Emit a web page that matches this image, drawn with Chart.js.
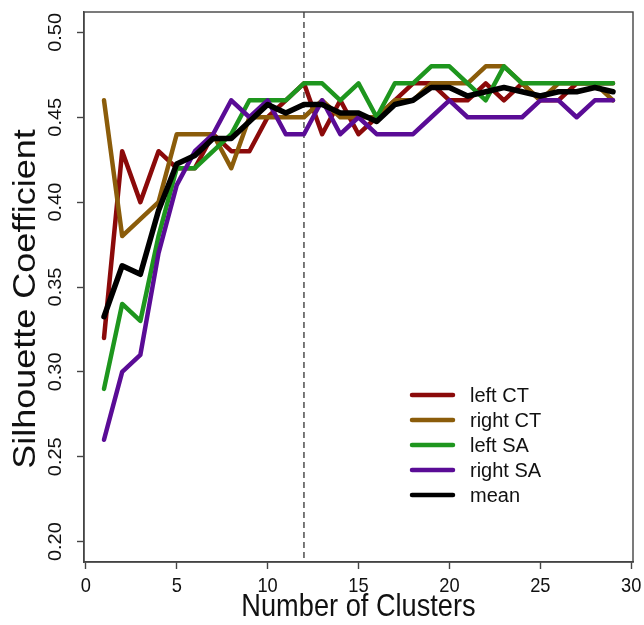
<!DOCTYPE html>
<html>
<head>
<meta charset="utf-8">
<script src="https://cdn.jsdelivr.net/npm/chart.js@4/dist/chart.umd.min.js"></script>
<style>
    body { margin: 0; background: #fff; }
    canvas { display: block; }
</style>
</head>
<body>
<canvas id="silhouette-chart" width="644" height="625"></canvas>
<script>
const clusters = [1,2,3,4,5,6,7,8,9,10,11,12,13,14,15,16,17,18,19,20,21,22,23,24,25,26,27,28,29];

const leftCT  = [0.32,0.43,0.40,0.43,0.42,0.42,0.44,0.43,0.43,0.45,0.46,0.47,0.44,0.46,0.44,0.45,0.46,0.47,0.47,0.46,0.46,0.47,0.46,0.47,0.46,0.46,0.47,0.47,0.47];
const rightCT = [0.46,0.38,0.39,0.40,0.44,0.44,0.44,0.42,0.45,0.45,0.45,0.45,0.46,0.45,0.45,0.45,0.46,0.46,0.47,0.47,0.47,0.48,0.48,0.47,0.46,0.47,0.47,0.47,0.46];
const leftSA  = [0.29,0.34,0.33,0.38,0.42,0.42,0.43,0.44,0.46,0.46,0.46,0.47,0.47,0.46,0.47,0.45,0.47,0.47,0.48,0.48,0.47,0.46,0.48,0.47,0.47,0.47,0.47,0.47,0.47];
const rightSA = [0.26,0.30,0.31,0.37,0.41,0.43,0.44,0.46,0.45,0.46,0.44,0.44,0.46,0.44,0.45,0.44,0.44,0.44,0.45,0.46,0.45,0.45,0.45,0.45,0.46,0.46,0.45,0.46,0.46];
const meanCoef = [0.3325,0.3625,0.3575,0.395,0.4225,0.4275,0.4375,0.4375,0.4475,0.4575,0.4525,0.4575,0.4575,0.4525,0.4525,0.4475,0.4575,0.46,0.4675,0.4675,0.4625,0.465,0.4675,0.465,0.4625,0.465,0.465,0.4675,0.465];

const seriesNames = ['left CT', 'right CT', 'left SA', 'right SA', 'mean'];
const xTickValues = [0,5,10,15,20,25,30];
const yTickValues = [0.20,0.25,0.30,0.35,0.40,0.45,0.50];
const chosenK = 12;

const colors = ['rgb(139,10,10)', 'rgb(139,92,10)', 'rgb(30,150,30)', 'rgb(90,12,150)', 'rgb(0,0,0)'];
const axisColor = '#444';
const fontFamily = '"Liberation Sans", Arial, Helvetica, sans-serif';

const toPoints = function(values){
    return values.map((v, i) => ({ x: clusters[i], y: v }));
};

const makeDataset = function(idx, values, width){
    return {
        label: seriesNames[idx],
        data: toPoints(values),
        borderColor: colors[idx],
        backgroundColor: colors[idx],
        borderWidth: width,
        pointRadius: 0,
        tension: 0,
        fill: false,
        borderCapStyle: 'round',
        borderJoinStyle: 'round',
        order: 5 - idx
    };
};

// box, dashed line at chosen k, labels and the legend
const rPlotPlugin = {
    id: 'rPlot',
    beforeDatasetsDraw(chart){
        const ctx = chart.ctx;
        const area = chart.chartArea;
        const x = chart.scales.x.getPixelForValue(chosenK);
        ctx.save();
        ctx.strokeStyle = '#222';
        ctx.lineWidth = 1.2;
        ctx.setLineDash([6, 4]);
        ctx.beginPath();
        ctx.moveTo(x, area.top);
        ctx.lineTo(x, area.bottom);
        ctx.stroke();
        ctx.restore();
    },
    afterDraw(chart){
        const ctx = chart.ctx;
        const area = chart.chartArea;
        const xScale = chart.scales.x;
        const yScale = chart.scales.y;

        ctx.save();
        ctx.strokeStyle = axisColor;
        ctx.lineWidth = 1.4;
        ctx.strokeRect(area.left, area.top, area.right - area.left, area.bottom - area.top);

        ctx.fillStyle = '#111';
        ctx.textAlign = 'center';

        // y tick labels, rotated like R's las = 0
        ctx.font = '20px ' + fontFamily;
        ctx.textBaseline = 'middle';
        for (const v of yTickValues) {
            const y = yScale.getPixelForValue(v);
            ctx.save();
            ctx.translate(area.left - 28, y);
            ctx.rotate(-Math.PI / 2);
            ctx.scale(1, 0.9);
            ctx.fillText(v.toFixed(2), 0, 0);
            ctx.restore();
        }

        // x tick labels, a bit narrow like the original
        ctx.font = '21px ' + fontFamily;
        ctx.textBaseline = 'alphabetic';
        for (const v of xTickValues) {
            const x = xScale.getPixelForValue(v);
            ctx.save();
            ctx.translate(x, 592);
            ctx.scale(0.87, 1);
            ctx.fillText(String(v), 0, 0);
            ctx.restore();
        }

        // axis titles
        ctx.font = '36px ' + fontFamily;
        ctx.save();
        ctx.translate(35, 299);
        ctx.rotate(-Math.PI / 2);
        ctx.scale(1, 0.86);
        ctx.fillText('Silhouette Coefficient', 0, 0);
        ctx.restore();

        ctx.font = '32px ' + fontFamily;
        ctx.save();
        ctx.translate((area.left + area.right) / 2, 616);
        ctx.scale(0.85, 1);
        ctx.fillText('Number of Clusters', 0, 0);
        ctx.restore();

        // legend
        const lx = area.left + 328;
        const ly = area.top + 383;
        ctx.font = '20px ' + fontFamily;
        ctx.textAlign = 'left';
        ctx.textBaseline = 'middle';
        ctx.lineCap = 'round';
        seriesNames.forEach((name, i) => {
            const y = ly + i * 25;
            ctx.strokeStyle = colors[i];
            ctx.lineWidth = 4.5;
            ctx.beginPath();
            ctx.moveTo(lx, y);
            ctx.lineTo(lx + 41, y);
            ctx.stroke();
            ctx.fillStyle = '#111';
            ctx.fillText(name, lx + 58, y + 1);
        });
        ctx.restore();
    }
};

let silhouetteData = {
    datasets: [
        makeDataset(0, leftCT, 4.5),
        makeDataset(1, rightCT, 4.5),
        makeDataset(2, leftSA, 4.5),
        makeDataset(3, rightSA, 4.5),
        makeDataset(4, meanCoef, 5.5)
    ]
};

let options = {
    responsive: false,
    animation: false,
    devicePixelRatio: 1,
    layout: { padding: { top: 12, right: 11, left: 0, bottom: 0 } },
    plugins: {
        legend: { display: false },
        tooltip: { enabled: false }
    },
    scales: {
        x: {
            type: 'linear',
            min: -0.1,
            max: 30.1,
            afterBuildTicks: scale => { scale.ticks = xTickValues.map(v => ({ value: v })); },
            afterFit: scale => { scale.height = 63; },
            grid: { drawOnChartArea: false, drawTicks: true, tickLength: 7, tickColor: axisColor, tickWidth: 1.4 },
            border: { display: true, color: axisColor, width: 1.4 },
            ticks: { display: false }
        },
        y: {
            type: 'linear',
            min: 0.188,
            max: 0.512,
            afterBuildTicks: scale => { scale.ticks = yTickValues.map(v => ({ value: v })); },
            afterFit: scale => { scale.width = 84; },
            grid: { drawOnChartArea: false, drawTicks: true, tickLength: 7, tickColor: axisColor, tickWidth: 1.4 },
            border: { display: true, color: axisColor, width: 1.4 },
            ticks: { display: false }
        }
    }
};

let ctx = document.getElementById('silhouette-chart');

let silhouetteChart = new Chart(ctx, {
    type: 'line',
    data: silhouetteData,
    options,
    plugins: [rPlotPlugin]
});
</script>
</body>
</html>
